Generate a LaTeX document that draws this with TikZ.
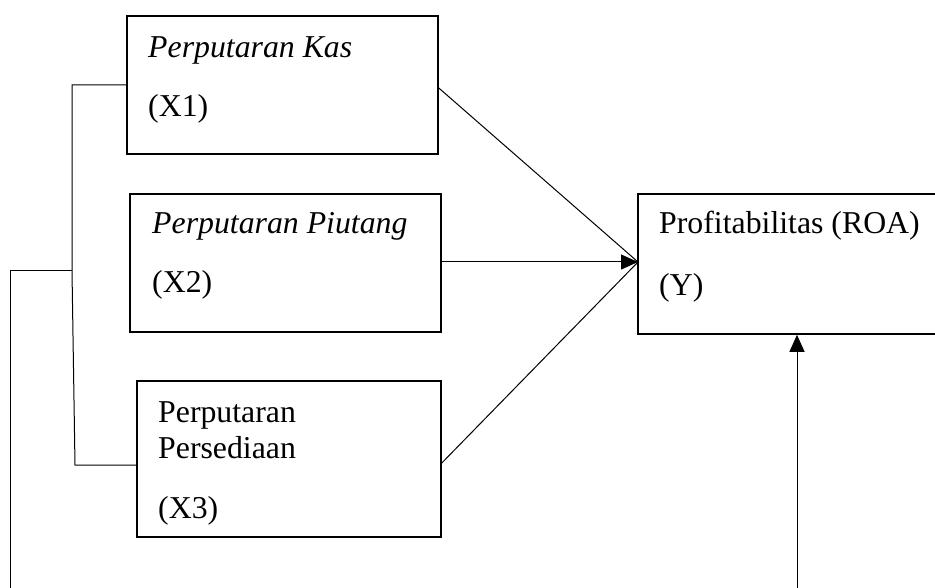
\documentclass[tikz,border=0pt]{standalone}
\usepackage{fontspec}
\setmainfont{Liberation Serif}
\usetikzlibrary{arrows.meta}
\begin{document}
\begin{tikzpicture}[x=1pt,y=-1pt,
  box/.style={draw, line width=1.6pt, rectangle, inner sep=0pt},
  lbl/.style={anchor=base west, inner sep=0pt, font=\fontsize{31.8}{38}\selectfont},
  conn/.style={line width=1pt},
  arr/.style={line width=1pt, -{Triangle[length=17pt,width=15pt]}}]
\clip (0,0) rectangle (935,588);
\fill[white] (0,0) rectangle (935,588);
% boxes
\node[box, minimum width=311pt, minimum height=138pt] (X1) at (282.5,85) {};
\node[box, minimum width=311pt, minimum height=138pt] (X2) at (285.5,263) {};
\node[box, minimum width=304pt, minimum height=156pt] (X3) at (289,459) {};
\node[box, minimum width=330pt, minimum height=140pt] (Y) at (803,264) {};
% texts
\node[lbl] (t1a) at (148,58) {\itshape Perputaran Kas};
\node[lbl] (t1b) at (148,117) {(X1)};
\node[lbl] (t2a) at (152,234) {\itshape Perputaran Piutang};
\node[lbl] (t2b) at (152,293) {(X2)};
\node[lbl] (t3a) at (158,422) {Perputaran};
\node[lbl] (t3b) at (158,458) {Persediaan};
\node[lbl] (t3c) at (158,518) {(X3)};
\node[lbl] (ya) at (659,234) {Profitabilitas (ROA)};
\node[lbl] (yb) at (659,295) {(Y)};
% arrows into Y
\coordinate (tip) at (638,262);
\draw[conn] ([yshift=-3pt]X1.east) -- (tip);
\draw[arr] ([yshift=1pt]X2.east) -- (tip);
\draw[conn] ([yshift=-4pt]X3.east) -- (tip);
% left bracket
\coordinate (b1) at (72,85);
\coordinate (b2) at (72,271);
\coordinate (b3) at (75,465);
\coordinate (c1) at (10,271);
\coordinate (c2) at (10,600);
\draw[conn] (X1.west) -- (b1) -- (b2) -- (b3) -- ([yshift=-6pt]X3.west);
\draw[conn] (b2) -- (c1) -- (c2);
% upward arrow
\coordinate (u0) at (797,600);
\draw[arr] (u0) -- (Y.south -| u0);
\end{tikzpicture}
\end{document}
